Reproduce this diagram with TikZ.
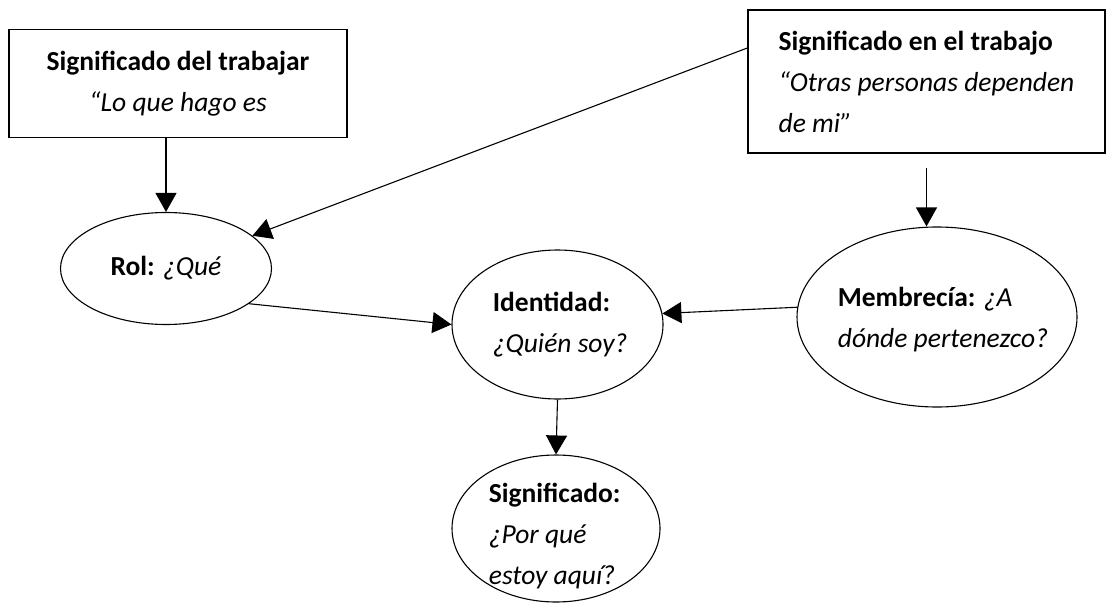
\documentclass[tikz,border=0pt]{standalone}
\usepackage{fontspec}
\setmainfont{Carlito}
\usetikzlibrary{arrows.meta,shapes.geometric}

\begin{document}
\begin{tikzpicture}[x=0.5pt, y=-0.5pt, >={Triangle[length=9.5pt,width=10.5pt]},
  every node/.style={font=\fontsize{13.75pt}{20.5pt}\selectfont},
  box/.style={draw, line width=0.7pt, rectangle, inner sep=0pt},
  oval/.style={draw, line width=0.55pt, ellipse, inner sep=0pt},
  txt/.style={inner sep=0pt, align=left},
  arr/.style={->, line width=0.55pt}]

  \useasboundingbox (0,0) rectangle (1111,604);

  % Boxes on top
  \node[box, minimum width=169pt, minimum height=53.8pt, align=center] (trabajar) at (178,83.5)
    {\textbf{Significado del trabajar}\\\textit{“Lo que hago es}};
  \node[box, minimum width=178.5pt, minimum height=71.5pt, align=left] (entrabajo) at (926.5,81.5)
    {\textbf{Significado en el trabajo}\\\textit{“Otras personas dependen}\\\textit{de mi”}};

  % Ellipses
  \node[oval, minimum width=105.5pt, minimum height=56pt] (rol) at (166,268.5) {};
  \node[oval, minimum width=105.5pt, minimum height=74.5pt] (ident) at (557.5,324.5) {};
  \node[oval, minimum width=140pt, minimum height=90pt] (memb) at (937,317) {};
  \node[oval, minimum width=104pt, minimum height=73.5pt] (signif) at (556,528.5) {};

  % Texts in the ellipses
  \node[txt] (rol-t) at (rol) {\textbf{Rol:} \textit{¿Qué}};
  \node[txt, anchor=west] (ident-t) at ([xshift=20.5pt]ident.west)
    {\textbf{Identidad:}\\\textit{¿Quién soy?}};
  \node[txt, anchor=west] (memb-t) at ([xshift=20.5pt, yshift=-1.5pt]memb.west)
    {\textbf{Membrecía:} \textit{¿A}\\\textit{dónde pertenezco?}};
  \node[txt, anchor=west] (signif-t) at ([xshift=18.5pt, yshift=-4pt]signif.west)
    {\textbf{Significado:}\\\textit{¿Por qué}\\\textit{estoy aquí?}};

  % Arrows
  \draw[arr] (trabajar.south -| rol.north) -- (rol.north);
  \draw[arr] ([yshift=16.75pt]entrabajo.west) -- (rol);
  \draw[arr] ([yshift=-7pt]entrabajo.south) -- (entrabajo.south |- memb.north);
  \draw[arr] (rol.-23) -- (ident.west);
  \draw[arr] (memb.176) -- (ident.6);
  \draw[arr] (ident.south) -- (signif.north);

\end{tikzpicture}
\end{document}
